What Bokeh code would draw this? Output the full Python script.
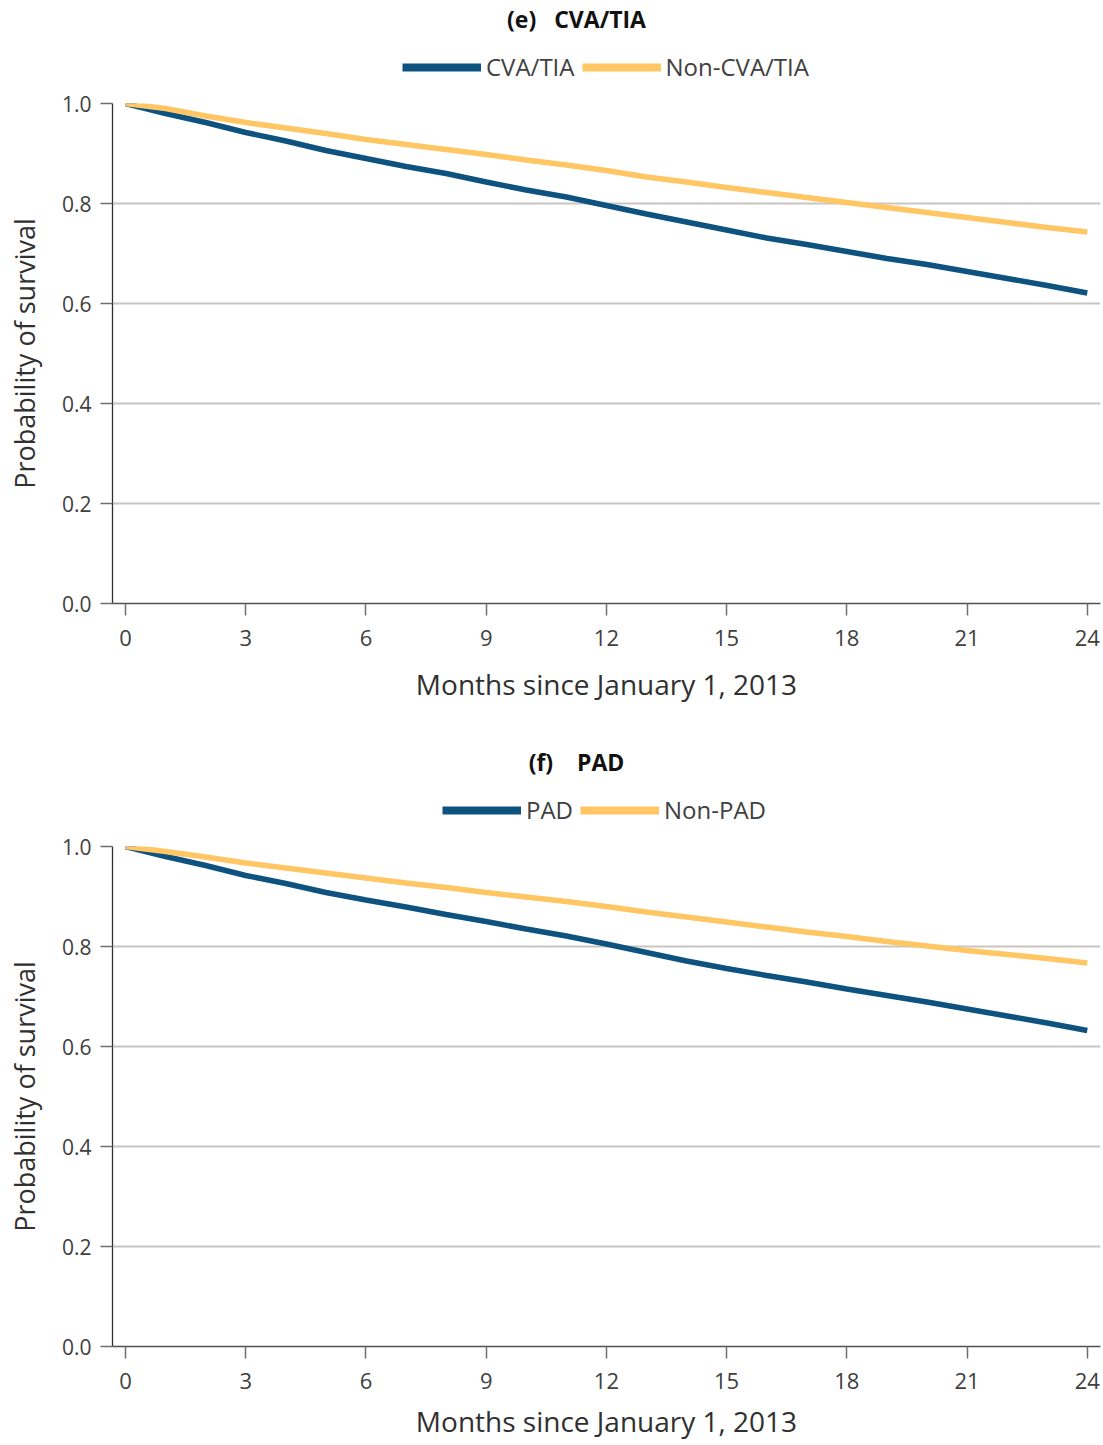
from bokeh.plotting import figure
from bokeh.models import (Range1d, FixedTicker, Legend, LegendItem, Label,
                          NumeralTickFormatter)
from bokeh.layouts import column
from bokeh.embed import file_html
from bokeh.resources import INLINE

# ---------------- data ----------------
months = list(range(25))

cva_tia = [1.000, 0.980, 0.962, 0.942, 0.925, 0.906, 0.890, 0.874, 0.860, 0.843,
           0.827, 0.813, 0.796, 0.779, 0.763, 0.747, 0.731, 0.718, 0.704, 0.690,
           0.678, 0.664, 0.650, 0.636, 0.621]
non_cva_tia = [1.000, 0.990, 0.975, 0.962, 0.951, 0.940, 0.928, 0.918, 0.908, 0.898,
               0.887, 0.877, 0.866, 0.853, 0.843, 0.832, 0.822, 0.812, 0.802, 0.792,
               0.782, 0.772, 0.762, 0.752, 0.743]

pad = [1.000, 0.980, 0.962, 0.942, 0.926, 0.908, 0.893, 0.879, 0.864, 0.850,
       0.835, 0.821, 0.805, 0.788, 0.771, 0.756, 0.742, 0.729, 0.715, 0.702,
       0.689, 0.675, 0.661, 0.647, 0.632]
non_pad = [1.000, 0.990, 0.979, 0.967, 0.957, 0.947, 0.937, 0.927, 0.918, 0.908,
           0.899, 0.890, 0.880, 0.869, 0.859, 0.849, 0.839, 0.829, 0.820, 0.810,
           0.801, 0.792, 0.784, 0.776, 0.767]

x_ticks = [0, 3, 6, 9, 12, 15, 18, 21, 24]
y_ticks = [0.0, 0.2, 0.4, 0.6, 0.8, 1.0]

NBSP = "\u00a0"
panel_titles = ["(e)" + NBSP * 3 + "CVA/TIA", "(f)" + NBSP * 4 + "PAD"]
legend_labels = [["CVA/TIA", "Non-CVA/TIA"], ["PAD", "Non-PAD"]]
x_label = "Months since January 1, 2013"
y_label = "Probability of survival"

BLUE = "#0e5280"
ORANGE = "#ffc663"
FONT = "Open Sans"
TXT = "#404040"
W = 1102


def make_header(title, labels, s1, s2, legend_left):
    # header strip holding the panel title and its legend; the series are
    # attached here only as legend sources and lie outside this strip's range
    h = figure(width=W, height=90, x_range=Range1d(0, 24), y_range=Range1d(5, 6),
               x_axis_type=None, y_axis_type=None,
               output_backend="svg", toolbar_location=None,
               min_border_left=0, min_border_right=0,
               min_border_top=0, min_border_bottom=0)
    h.outline_line_color = None
    h.grid.visible = False
    h.add_layout(Label(x=464, y=72, x_units="screen", y_units="screen",
                       text=title, text_align="center", text_baseline="middle",
                       text_font=FONT, text_font_style="bold",
                       text_font_size="23px", text_color="#111111"))
    r1 = h.line(months, s1, line_color=BLUE, line_width=8)
    r2 = h.line(months, s2, line_color=ORANGE, line_width=8)
    leg = Legend(items=[LegendItem(label=labels[0], renderers=[r1]),
                        LegendItem(label=labels[1], renderers=[r2])],
                 orientation="horizontal", location=(legend_left, 7),
                 glyph_width=79, glyph_height=20, label_standoff=5, spacing=7,
                 padding=0, margin=0, border_line_color=None,
                 background_fill_alpha=0,
                 label_text_font=FONT, label_text_font_size="24px",
                 label_text_color=TXT)
    h.add_layout(leg, "center")
    return h


def make_panel(s1, s2, height, bottom, xlabel_standoff):
    p = figure(width=W, height=height,
               x_range=Range1d(-0.325, 24.33), y_range=Range1d(0.0, 1.0),
               output_backend="svg", toolbar_location=None,
               min_border_left=112, min_border_right=2,
               min_border_top=13, min_border_bottom=bottom)
    p.outline_line_color = None
    p.background_fill_color = "white"
    p.border_fill_color = "white"

    # grid
    p.xgrid.grid_line_color = None
    p.ygrid.grid_line_color = "#c9c5c2"
    p.ygrid.grid_line_width = 1.8
    p.ygrid.ticker = FixedTicker(ticks=y_ticks)

    # axes
    p.xaxis.ticker = FixedTicker(ticks=x_ticks)
    p.yaxis.ticker = FixedTicker(ticks=y_ticks)
    p.yaxis.formatter = NumeralTickFormatter(format="0.0")
    for ax in (p.xaxis[0], p.yaxis[0]):
        ax.major_tick_in = 0
        ax.major_tick_out = 12
        ax.minor_tick_line_color = None
        ax.major_tick_line_color = "#6f6f6f"
        ax.major_tick_line_width = 1.5
        ax.major_label_text_font = FONT
        ax.major_label_text_color = TXT
        ax.axis_label_text_font = FONT
        ax.axis_label_text_font_style = "normal"
        ax.axis_label_text_color = "#303030"
    p.xaxis.axis_label_text_font_size = "28px"
    p.yaxis.axis_label_text_font_size = "27px"
    p.xaxis.axis_line_color = "#505050"
    p.xaxis.axis_line_width = 1.5
    p.yaxis.axis_line_color = "#303030"
    p.yaxis.axis_line_width = 1.3
    p.xaxis.major_label_text_font_size = "22px"
    p.yaxis.major_label_text_font_size = "21px"
    p.xaxis.major_label_standoff = 14
    p.yaxis.major_label_standoff = 9
    p.xaxis.axis_label = x_label
    p.yaxis.axis_label = y_label
    p.xaxis.axis_label_standoff = xlabel_standoff
    p.yaxis.axis_label_standoff = 16

    # data lines
    p.line(months, s1, line_color=BLUE, line_width=5.5)
    p.line(months, s2, line_color=ORANGE, line_width=5.5)
    return p


h1 = make_header(panel_titles[0], legend_labels[0], cva_tia, non_cva_tia, legend_left=290)
p1 = make_panel(cva_tia, non_cva_tia, height=653, bottom=140, xlabel_standoff=16)
h2 = make_header(panel_titles[1], legend_labels[1], pad, non_pad, legend_left=330)
p2 = make_panel(pad, non_pad, height=611, bottom=98, xlabel_standoff=10)

layout = column(h1, p1, h2, p2, spacing=0)
open("out.html", "w").write(file_html(layout, INLINE))
